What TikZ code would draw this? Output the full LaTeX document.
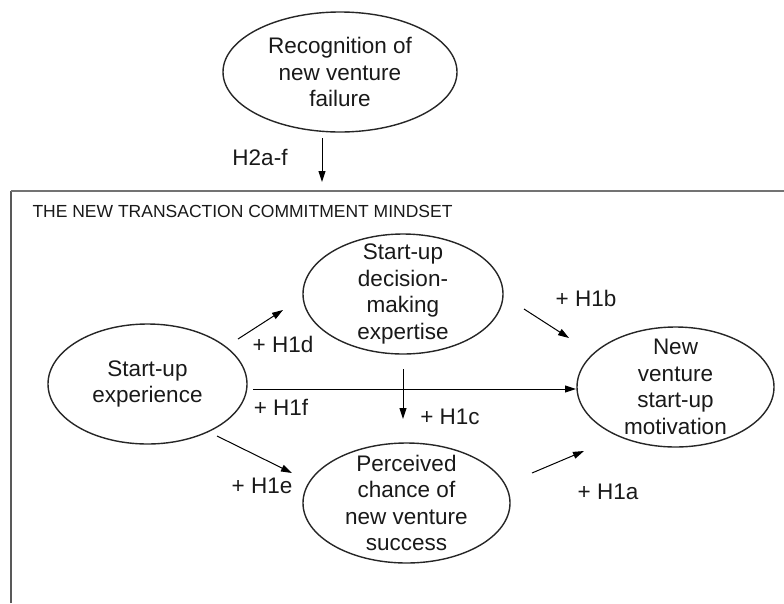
\documentclass[tikz,border=0pt]{standalone}
\usepackage{fontspec}
\setmainfont{Liberation Sans}
\usetikzlibrary{shapes.geometric}
\usetikzlibrary{arrows.meta}

\begin{document}
\begin{tikzpicture}[x=1pt, y=-1pt, line width=1pt,
  oval/.style={ellipse, draw=black!85, line width=1.4pt, inner sep=0pt},
  txt/.style={align=center, inner sep=0pt, text=black!90, font=\fontsize{22.5}{26.5}\selectfont},
  hyp/.style={inner sep=0pt, text=black!90, font=\fontsize{22.5}{26.5}\selectfont},
  >={Triangle[length=11pt,width=7pt]}]
\useasboundingbox (0,0) rectangle (784,603);

% frame of the mindset
\coordinate (f1) at (11,603);
\coordinate (f2) at (11,191);
\coordinate (f3) at (784,191);
\draw[black!65, line width=1.3pt] (f1) -- (f2);
\draw[black!55, line width=2pt] (f2) -- (f3);
\node [anchor=base west, inner sep=0pt, text=black!90, font=\fontsize{17.5}{20}\selectfont] (title) at (32,217) {THE NEW TRANSACTION COMMITMENT MINDSET};

\node [oval, minimum width=234pt, minimum height=120pt] (rec) at (340,72) {};
\node [oval, minimum width=200pt, minimum height=120pt] (dec) at (403,294) {};
\node [oval, minimum width=199pt, minimum height=120pt] (exp) at (147.5,384) {};
\node [oval, minimum width=207pt, minimum height=120pt] (per) at (406.5,503) {};
\node [oval, minimum width=197pt, minimum height=120pt] (mot) at (675.5,387) {};

\node [txt] (rec-t) at (rec) {Recognition of\\new venture\\failure};
\node [txt] (dec-t) at (dec) {Start-up\\decision-\\making\\expertise};
\node [txt] (exp-t) at (exp) {Start-up\\experience};
\node [txt] (per-t) at (per) {Perceived\\chance of\\new venture\\success};
\node [txt] (mot-t) at (mot) {New\\venture\\start-up\\motivation};

% arrow ends
\coordinate (h2s) at (322,138);  \coordinate (h2e) at (322,182);
\coordinate (h1ds) at (238,339); \coordinate (h1de) at (283,310);
\coordinate (h1fs) at (253,389); \coordinate (h1fe) at (576,389);
\coordinate (h1cs) at (403,369); \coordinate (h1ce) at (403,419);
\coordinate (h1bs) at (524,309); \coordinate (h1be) at (569,338);
\coordinate (h1es) at (217,436); \coordinate (h1ee) at (292,473);
\coordinate (h1as) at (532,473); \coordinate (h1ae) at (584,451);

\draw[->] (h2s) -- (h2e);
\draw[->] (h1ds) -- (h1de);
\draw[->] (h1fs) -- (h1fe);
\draw[->] (h1cs) -- (h1ce);
\draw[->] (h1bs) -- (h1be);
\draw[->] (h1es) -- (h1ee);
\draw[->] (h1as) -- (h1ae);

\node [hyp] (l2) at (260,157) {H2a-f};
\node [hyp] (l1d) at (283,344) {+ H1d};
\node [hyp] (l1f) at (281,407) {+ H1f};
\node [hyp] (l1c) at (450,417) {+ H1c};
\node [hyp] (l1b) at (586,298) {+ H1b};
\node [hyp] (l1e) at (262,486) {+ H1e};
\node [hyp] (l1a) at (608,492) {+ H1a};
\end{tikzpicture}
\end{document}
